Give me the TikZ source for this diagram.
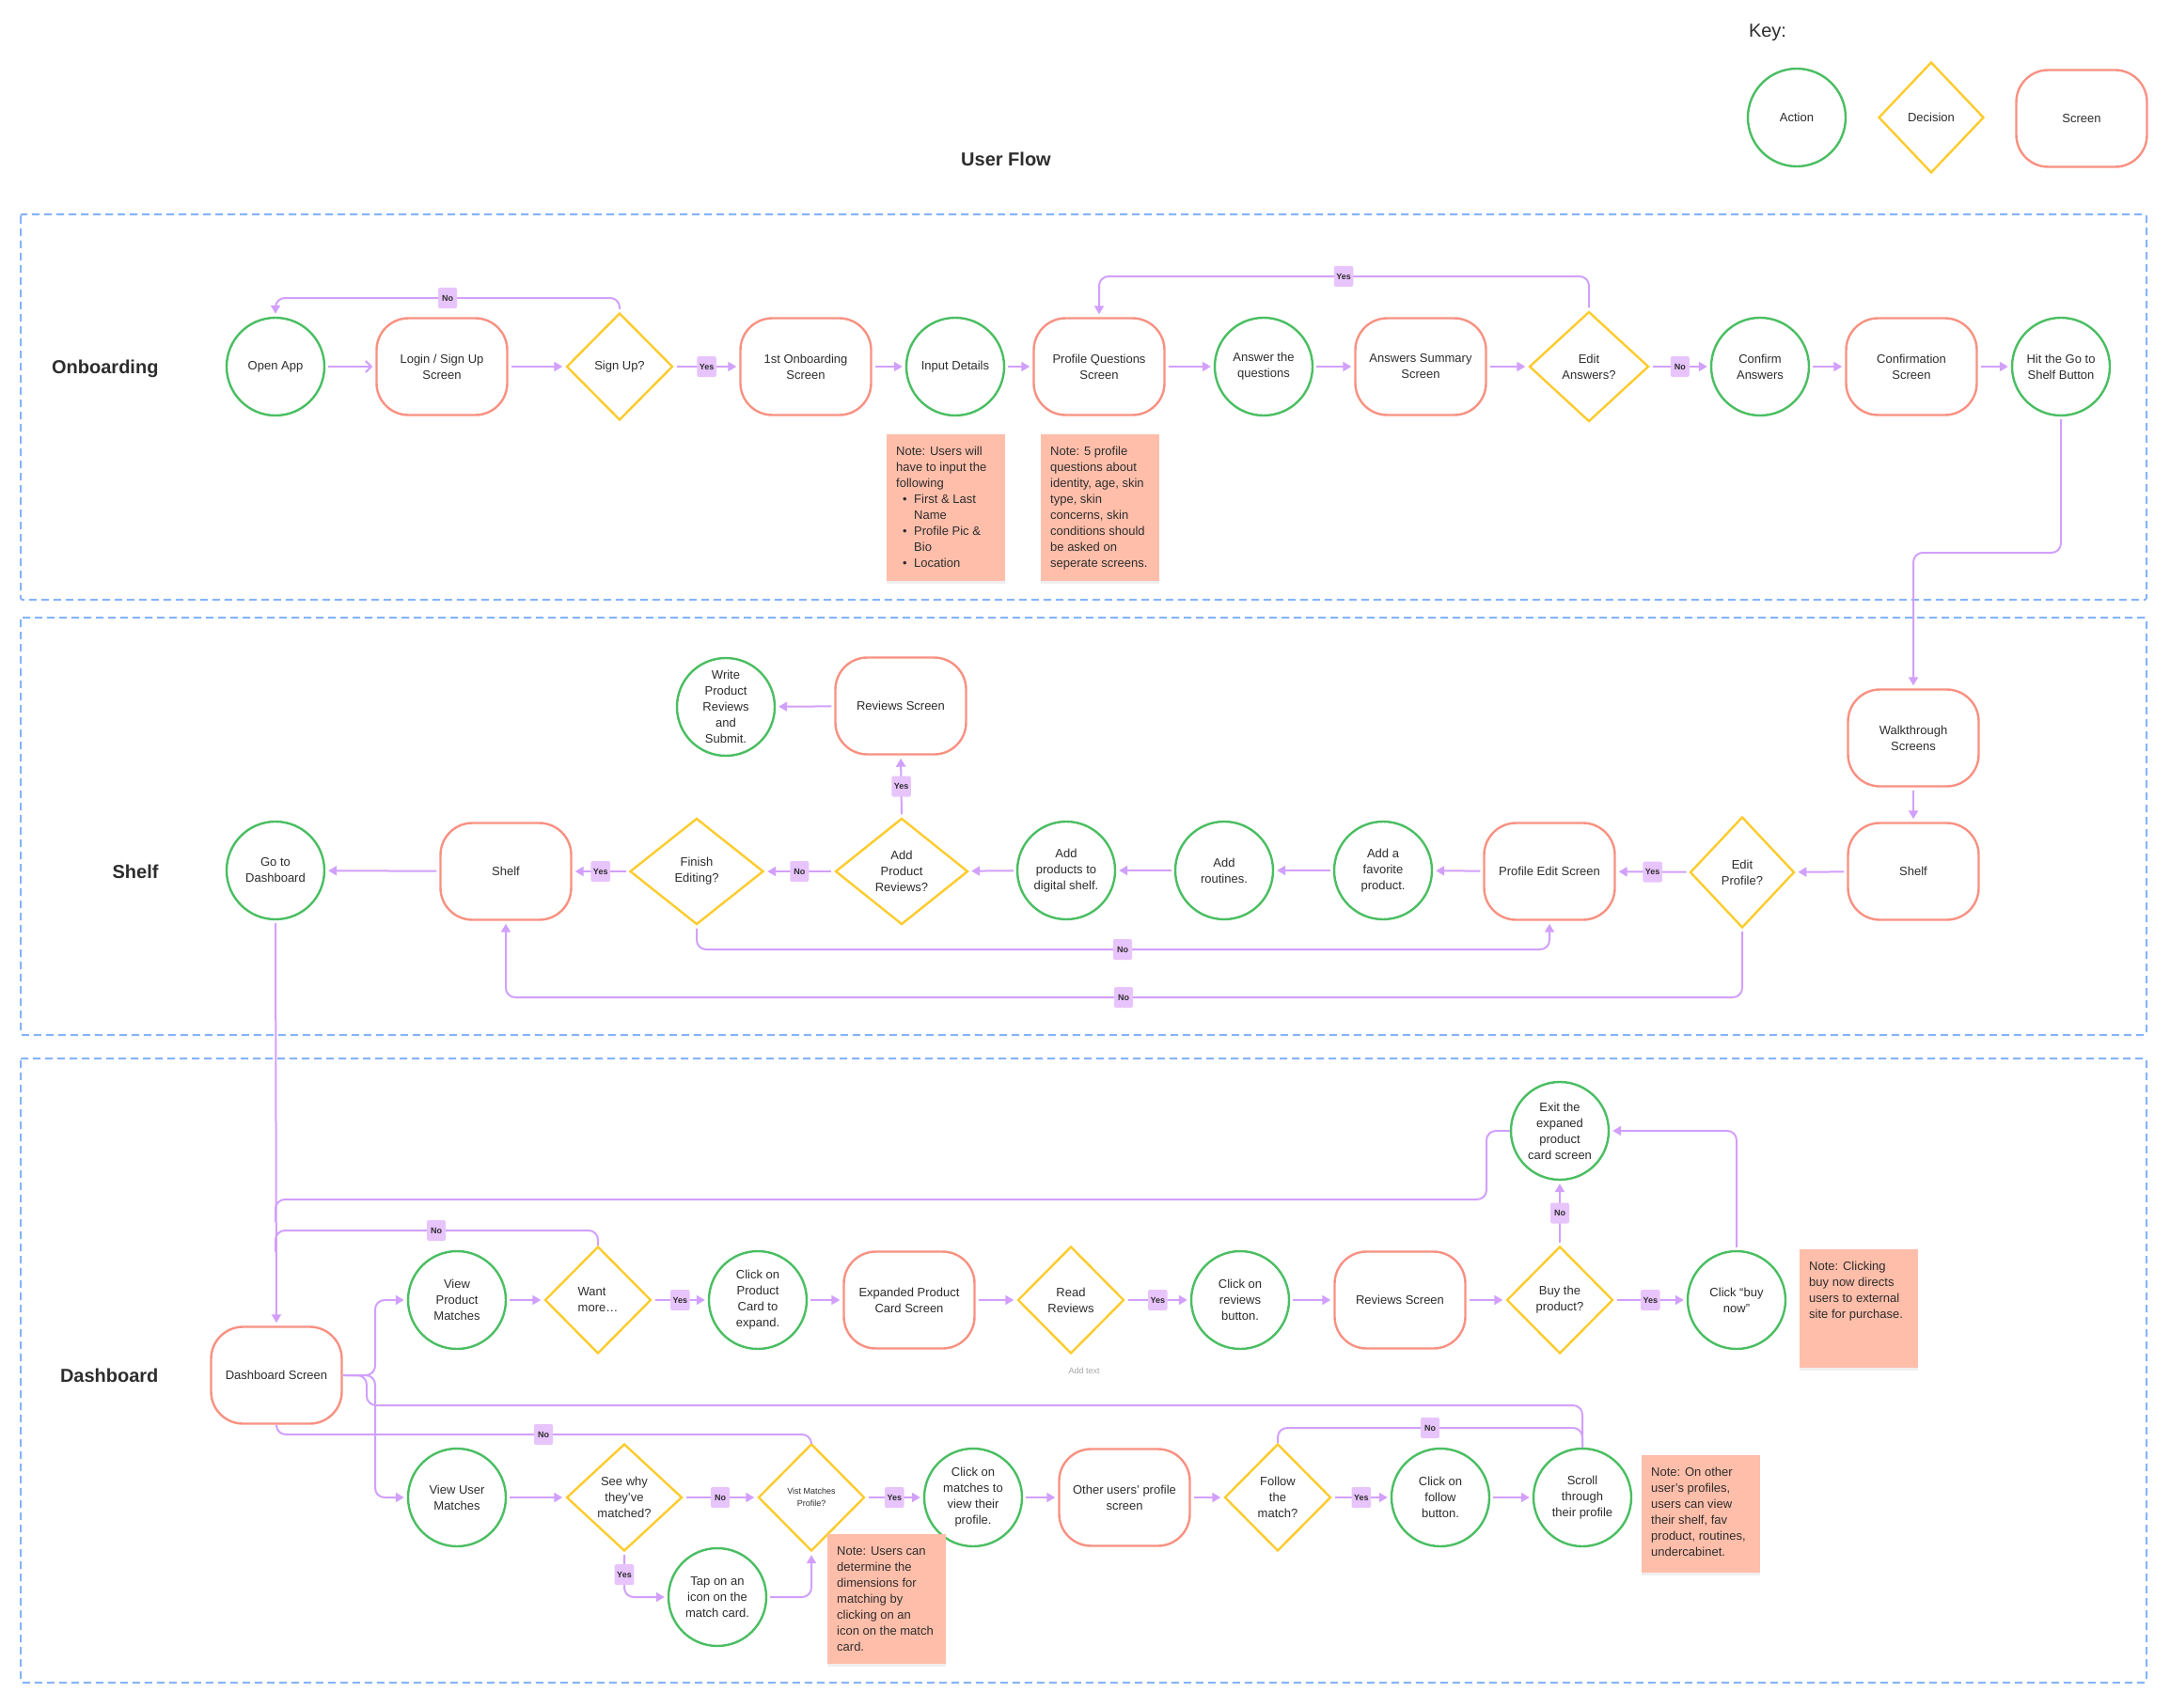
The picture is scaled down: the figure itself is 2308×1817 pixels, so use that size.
\documentclass[tikz,border=0pt]{standalone}
\usepackage{fontspec}
\setmainfont{Liberation Sans}
\usepackage{tikz}
\usetikzlibrary{shapes.geometric, arrows.meta, shadows}

\definecolor{actc}{RGB}{74,190,98}
\definecolor{decc}{RGB}{252,204,46}
\definecolor{scrc}{RGB}{248,145,130}
\definecolor{notec}{RGB}{255,190,170}
\definecolor{flowc}{RGB}{210,160,252}
\definecolor{lblc}{RGB}{232,196,252}
\definecolor{framec}{RGB}{133,180,252}
\definecolor{txtc}{RGB}{45,45,45}

\newcommand{\notepar}[2]{\parbox[t][#1][t]{106pt}{\raggedright #2}}
\newcommand{\notebullet}{\hspace*{7pt}\makebox[12pt][l]{\textbullet}}
\newcommand{\noteindent}{\hspace*{19pt}}

\begin{document}
\begin{tikzpicture}[x=1pt, y=-1pt,
        font=\fontsize{13}{17}\selectfont, text=txtc,
        action/.style   = {circle, draw=actc, line width=2.4pt, minimum size=104pt, inner sep=0pt, align=center},
        decision/.style = {diamond, draw=decc, line width=2.4pt, minimum width=113pt, minimum height=114pt, inner sep=0pt, align=center},
        screen/.style   = {rectangle, draw=scrc, line width=2.4pt, rounded corners=34pt, minimum width=139pt, minimum height=103pt, inner sep=0pt, align=center},
        note/.style     = {rectangle, fill=notec, inner xsep=10pt, inner ysep=13pt, anchor=north west, drop shadow={opacity=0.12, shadow xshift=0pt, shadow yshift=-3pt}},
        lbl/.style      = {rectangle, fill=lblc, rounded corners=2pt, font=\bfseries\fontsize{9}{10}\selectfont, inner sep=2.5pt, minimum height=22pt, minimum width=20pt},
        flow/.style     = {draw=flowc, line width=2pt, rounded corners=10pt, shorten >=3pt, shorten <=3pt, -{Triangle[length=9pt, width=10pt]}},
        link/.style     = {draw=flowc, line width=2pt, rounded corners=10pt},
        lane/.style     = {draw=framec, line width=2pt, dash pattern=on 8pt off 5pt, rounded corners=2pt},
        lane_label/.style = {font=\bfseries\fontsize{20}{24}\selectfont, anchor=east},
        addtxt/.style   = {font=\fontsize{9}{11}\selectfont, text=black!35}
    ]

    \useasboundingbox (0,0) rectangle (2308,1817);
    \fill[white] (0,0) rectangle (2308,1817);

    % --- LANES ---
    \draw[lane] (22,228)  rectangle (2283,638);
    \draw[lane] (22,657)  rectangle (2283,1101);
    \draw[lane] (22,1126) rectangle (2283,1790);

    \node[lane_label] (lblOnb)  at (172,392)  {Onboarding};
    \node[lane_label] (lblShelf) at (172,927) {Shelf};
    \node[lane_label] (lblDash) at (172,1463) {Dashboard};
    \node[lane_label, anchor=center] (title) at (1070,169) {User Flow};

    % --- KEY ---
    \node[font=\fontsize{20}{24}\selectfont] (keyhead) at (1880,35) {Key:};
    \node[action] (keyAct) at (1911,125) {Action};
    \node[decision, minimum width=112pt, minimum height=118pt] (keyDec) at (2054,125) {Decision};
    \node[screen] (keyScr) at (2214,126) {Screen};

    % --- ONBOARDING ---
    \node[action]   (openapp)  at (293,390)  {Open App};
    \node[screen]   (login)    at (470,390)  {Login / Sign Up\\Screen};
    \node[decision] (signup)   at (659,390)  {Sign Up?};
    \node[screen]   (onb1)     at (857,390)  {1st Onboarding\\Screen};
    \node[action]   (input)    at (1016,390) {Input Details};
    \node[screen]   (profq)    at (1169,390) {Profile Questions\\Screen};
    \node[action]   (answer)   at (1344,390) {Answer the\\questions};
    \node[screen]   (anssum)   at (1511,390) {Answers Summary\\Screen};
    \node[decision, minimum width=127pt, minimum height=117pt] (editans) at (1690,390) {Edit\\Answers?};
    \node[action]   (confirm)  at (1872,390) {Confirm\\Answers};
    \node[screen]   (confscr)  at (2033,390) {Confirmation\\Screen};
    \node[action]   (hitshelf) at (2192,390) {Hit the Go to\\Shelf Button};

    \node[note] (noteInput) at (943,462) {\notepar{130pt}{Note: Users will\\have to input the\\following\\
        \notebullet First \& Last\\\noteindent Name\\
        \notebullet Profile Pic \&\\\noteindent Bio\\
        \notebullet Location}};
    \node[note] (noteProf) at (1107,462) {\notepar{130pt}{Note: 5 profile\\questions about\\identity, age, skin\\type, skin\\concerns, skin\\conditions should\\be asked on\\seperate screens.}};

    % --- SHELF ---
    \node[screen]   (walk)     at (2035,785) {Walkthrough\\Screens};
    \node[screen]   (shelfR)   at (2035,927) {Shelf};
    \node[decision, minimum width=111pt, minimum height=118pt] (editprof) at (1853,928) {Edit\\Profile?};
    \node[screen]   (profedit) at (1648,927) {Profile Edit Screen};
    \node[action]   (addfav)   at (1471,926) {Add a\\favorite\\product.};
    \node[action]   (addrout)  at (1302,926) {Add\\routines.};
    \node[action]   (addprod)  at (1134,926) {Add\\products to\\digital shelf.};
    \node[decision, minimum width=141pt, minimum height=113pt] (addrev) at (959,927) {Add\\Product\\Reviews?};
    \node[decision, minimum width=142pt, minimum height=113pt] (finish) at (741,927) {Finish\\Editing?};
    \node[screen]   (shelfL)   at (538,927)  {Shelf};
    \node[action]   (gotodash) at (293,926)  {Go to\\Dashboard};
    \node[screen]   (revS)     at (958,751)  {Reviews Screen};
    \node[action]   (writerev) at (772,752)  {Write\\Product\\Reviews\\and\\Submit.};

    % --- DASHBOARD ---
    \node[screen]   (dashS)     at (294,1463)  {Dashboard Screen};
    \node[action]   (vpm)       at (486,1383)  {View\\Product\\Matches};
    \node[decision, align=left] (want) at (636,1383) {Want\\more…};
    \node[action]   (clickcard) at (806,1383)  {Click on\\Product\\Card to\\expand.};
    \node[screen]   (expcard)   at (967,1383)  {Expanded Product\\Card Screen};
    \node[decision] (readrev)   at (1139,1383) {Read\\Reviews};
    \node[action]   (clickrev)  at (1319,1383) {Click on\\reviews\\button.};
    \node[screen]   (revD)      at (1489,1383) {Reviews Screen};
    \node[decision] (buy)       at (1659,1383) {Buy the\\product?};
    \node[action]   (buynow)    at (1847,1383) {Click “buy\\now”};
    \node[action]   (exitcard)  at (1659,1203) {Exit the\\expaned\\product\\card screen};
    \node[addtxt]   (addtext)   at (1153,1458) {Add text};

    \node[action]   (vum)        at (486,1593)  {View User\\Matches};
    \node[decision, minimum width=123pt] (seewhy) at (664,1593) {See why\\they’ve\\matched?};
    \node[action]   (tap)        at (763,1699)  {Tap on an\\icon on the\\match card.};
    \node[decision, font=\fontsize{9}{13}\selectfont] (vist) at (863,1593) {Vist Matches\\Profile?};
    \node[action]   (clickmatch) at (1035,1593) {Click on\\matches to\\view their\\profile.};
    \node[screen]   (otherprof)  at (1196,1593) {Other users’ profile\\screen};
    \node[decision] (follow)     at (1359,1593) {Follow\\the\\match?};
    \node[action]   (clickfollow) at (1532,1593) {Click on\\follow\\button.};
    \node[action]   (scroll)     at (1683,1593) {Scroll\\through\\their profile};

    \node[note] (noteBuy) at (1914,1329) {\notepar{100pt}{Note: Clicking\\buy now directs\\users to external\\site for purchase.}};
    \node[note] (noteMatch) at (880,1632) {\notepar{112pt}{Note: Users can\\determine the\\dimensions for\\matching by\\clicking on an\\icon on the match\\card.}};
    \node[note] (noteOther) at (1746,1548) {\notepar{99pt}{Note: On other\\user’s profiles,\\users can view\\their shelf, fav\\product, routines,\\undercabinet.}};

    % --- CONNECTORS: ONBOARDING ---
    \draw[flow, -{Straight Barb[length=6pt, width=12pt]}] (openapp) -- (login);
    \draw[flow] (login) -- (signup);
    \draw[flow] (signup) -- (onb1) node[lbl, midway] {Yes};
    \draw[flow] (signup.north) |- (476,317) node[lbl] {No} -| (openapp.north);
    \draw[flow] (onb1) -- (input);
    \draw[flow] (input) -- (profq);
    \draw[flow] (profq) -- (answer);
    \draw[flow] (answer) -- (anssum);
    \draw[flow] (anssum) -- (editans);
    \draw[flow] (editans.north) |- (1429,294) node[lbl] {Yes} -| (profq.north);
    \draw[flow] (editans) -- (confirm) node[lbl, midway] {No};
    \draw[flow] (confirm) -- (confscr);
    \draw[flow] (confscr) -- (hitshelf);
    \draw[flow] (hitshelf.south) |- (2100,588) -| (walk.north);

    % --- CONNECTORS: SHELF ---
    \draw[flow] (walk) -- (shelfR);
    \draw[flow] (shelfR) -- (editprof);
    \draw[flow] (editprof) -- (profedit) node[lbl, midway] {Yes};
    \draw[flow] (editprof.south) |- (1195,1061) node[lbl] {No} -| (shelfL.south);
    \draw[flow] (profedit) -- (addfav);
    \draw[flow] (addfav) -- (addrout);
    \draw[flow] (addrout) -- (addprod);
    \draw[flow] (addprod) -- (addrev);
    \draw[flow] (addrev) -- (finish) node[lbl, midway] {No};
    \draw[flow] (addrev.north) -- (revS.south) node[lbl, midway] {Yes};
    \draw[flow] (revS) -- (writerev);
    \draw[flow] (finish.south) |- (1194,1010) node[lbl] {No} -| (profedit.south);
    \draw[flow] (finish) -- (shelfL) node[lbl, midway] {Yes};
    \draw[flow] (shelfL) -- (gotodash);
    \draw[flow] (gotodash.south) -- (dashS.north);

    % --- CONNECTORS: DASHBOARD ---
    \coordinate (jExit) at (293,1300);
    \coordinate (jWant) at (293,1332);
    \draw[flow] (dashS.east) -- (399,1463) |- (vpm.west);
    \draw[flow] (dashS.east) -- (399,1463) |- (vum.west);
    \draw[flow] (vpm) -- (want);
    \draw[flow] (want) -- (clickcard) node[lbl, midway] {Yes};
    \draw[link] (want.north) |- (464,1309) node[lbl] {No} -| (jWant);
    \draw[flow] (clickcard) -- (expcard);
    \draw[flow] (expcard) -- (readrev);
    \draw[flow] (readrev) -- (clickrev) node[lbl, midway] {Yes};
    \draw[flow] (clickrev) -- (revD);
    \draw[flow] (revD) -- (buy);
    \draw[flow] (buy) -- (buynow) node[lbl, midway] {Yes};
    \draw[flow] (buy.north) -- (exitcard.south) node[lbl, midway] {No};
    \draw[flow] (buynow.north) |- (exitcard.east);
    \draw[link] (exitcard.west) -| (1581,1276) -| (jExit);

    \draw[flow] (vum) -- (seewhy);
    \draw[flow] (seewhy) -- (vist) node[lbl, midway] {No};
    \draw[flow] (seewhy.south) |- (tap.west) node[lbl, pos=0.25] {Yes};
    \draw[flow] (tap.east) -| (vist.south);
    \draw[flow] (vist) -- (clickmatch) node[lbl, midway] {Yes};
    \draw[link] (vist.north) |- (578,1526) node[lbl] {No} -| (dashS.south);
    \draw[flow] (clickmatch) -- (otherprof);
    \draw[flow] (otherprof) -- (follow);
    \draw[flow] (follow) -- (clickfollow) node[lbl, midway] {Yes};
    \draw[link] (follow.north) |- (1521,1519) node[lbl] {No} -| (scroll.north);
    \draw[flow] (clickfollow) -- (scroll);
    \draw[link] (scroll.north) |- (390,1495) |- (dashS.east);

\end{tikzpicture}
\end{document}
